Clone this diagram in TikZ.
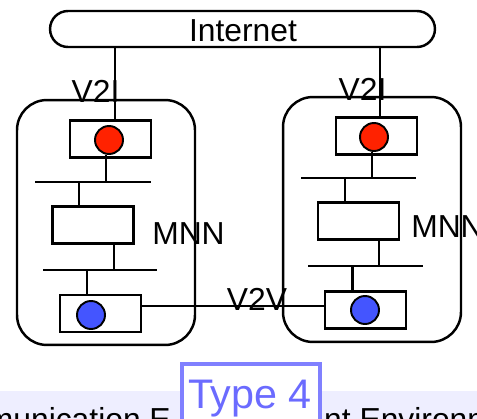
\documentclass[tikz,border=0pt]{standalone}
\usepackage{fontspec}
\setmainfont{Liberation Sans}
\definecolor{carred}{HTML}{FF2200}
\definecolor{carblue}{HTML}{4455FF}
\definecolor{bandbg}{HTML}{EEEEFF}
\definecolor{typeline}{HTML}{8080FF}
\definecolor{typetext}{HTML}{6B6BFF}
\begin{document}
\begin{tikzpicture}[x=0.02cm, y=-0.02cm, line width=1.4pt,
  lbl/.style={inner sep=0pt, font=\fontsize{18.1}{20}\selectfont},
  box/.style={draw, inner sep=0pt, minimum width=1.62cm, minimum height=0.74cm},
  dot/.style={draw, circle, inner sep=0pt, minimum size=0.56cm, line width=1.1pt},
  car/.style={draw, inner sep=0pt, rounded corners=0.6cm, minimum width=3.56cm, minimum height=4.9cm}]
\useasboundingbox (0,0) rectangle (477,419);
% band at the bottom
\fill[bandbg] (0,391) rectangle (477,419);
\node[lbl, anchor=base east] (capl) at (172,430) {Communication E};
\node[lbl, anchor=base west] (capr) at (323,430) {nt Environment};
% internet
\node (inet) [draw, inner sep=0pt, rounded corners=0.36cm, minimum width=7.7cm, minimum height=0.72cm] at (242.5,29) {};
\node[lbl] (inettxt) at (243,30.5) {Internet};
% left car
\node[car] (lcar) at (106,222.5) {};
\node[box] (ltop) at (110.5,139) {};
\node[dot, fill=carred] (lred) at (109,140) {};
\node[box] (lmnn) at (93,225) {};
\node[box] (lbot) at (100.5,313.5) {};
\node[dot, fill=carblue] (lblue) at (91,315) {};
\coordinate (lbus1w) at (35,182);
\coordinate (lbus1e) at (151,182);
\coordinate (lbus2w) at (43,270);
\coordinate (lbus2e) at (157,270);
\draw (lbus1w) -- (lbus1e);
\draw (lbus2w) -- (lbus2e);
\draw ([xshift=0.09cm]ltop.north) -- ([xshift=0.09cm]ltop.north |- inet.south);
\draw ([xshift=-0.06cm]lred.south) -- ([xshift=-0.06cm]lred.south |- lbus1w);
\draw ([xshift=-0.28cm]lmnn.north) -- ([xshift=-0.28cm]lmnn.north |- lbus1w);
\draw ([xshift=0.42cm]lmnn.south) -- ([xshift=0.42cm]lmnn.south |- lbus2w);
\draw ([xshift=-0.08cm]lblue |- lbot.north) -- ([xshift=-0.08cm]lblue |- lbus2w);
% right car
\node[car] (rcar) at (372,219.5) {};
\node[box] (rtop) at (376.5,136) {};
\node[dot, fill=carred] (rred) at (374,137) {};
\node[box] (rmnn) at (358.5,221) {};
\node[box] (rbot) at (365.5,310) {};
\node[dot, fill=carblue] (rblue) at (365,310) {};
\coordinate (rbus1w) at (301,178);
\coordinate (rbus1e) at (416,178);
\coordinate (rbus2w) at (308,266);
\coordinate (rbus2e) at (423,266);
\draw (rbus1w) -- (rbus1e);
\draw (rbus2w) -- (rbus2e);
\draw ([xshift=0.07cm]rtop.north) -- ([xshift=0.07cm]rtop.north |- inet.south);
\draw ([xshift=-0.04cm]rred.south) -- ([xshift=-0.04cm]rred.south |- rbus1w);
\draw ([xshift=-0.27cm]rmnn.north) -- ([xshift=-0.27cm]rmnn.north |- rbus1w);
\draw ([xshift=0.41cm]rmnn.south) -- ([xshift=0.41cm]rmnn.south |- rbus2w);
\draw ([xshift=-0.26cm]rbot.north) -- ([xshift=-0.26cm]rbot.north |- rbus2w);
% v2v link
\draw[line width=1.1pt] ([yshift=0.15cm]lbot.east) -- ([yshift=0.15cm]lbot.east -| rbot.west);
% labels
\node[lbl] (lv2i) at (95.5,91.5) {V2I};
\node[lbl] (rv2i) at (362.5,89) {V2I};
\node[lbl] (lmnntxt) at (188.5,233.5) {MNN};
\node[lbl] (rmnntxt) at (447.5,227) {MNN};
\node[lbl] (v2v) at (257,299) {V2V};
% type box
\node (type) [draw=typeline, fill=white, line width=2.3pt, inner sep=0pt, minimum width=2.76cm, minimum height=1.6cm, anchor=north] at (251,362) {};
\node[inner sep=0pt, text=typetext, font=\fontsize{23.5}{26}\selectfont, anchor=base] (typetxt) at (250,408) {Type 4};
\end{tikzpicture}
\end{document}
